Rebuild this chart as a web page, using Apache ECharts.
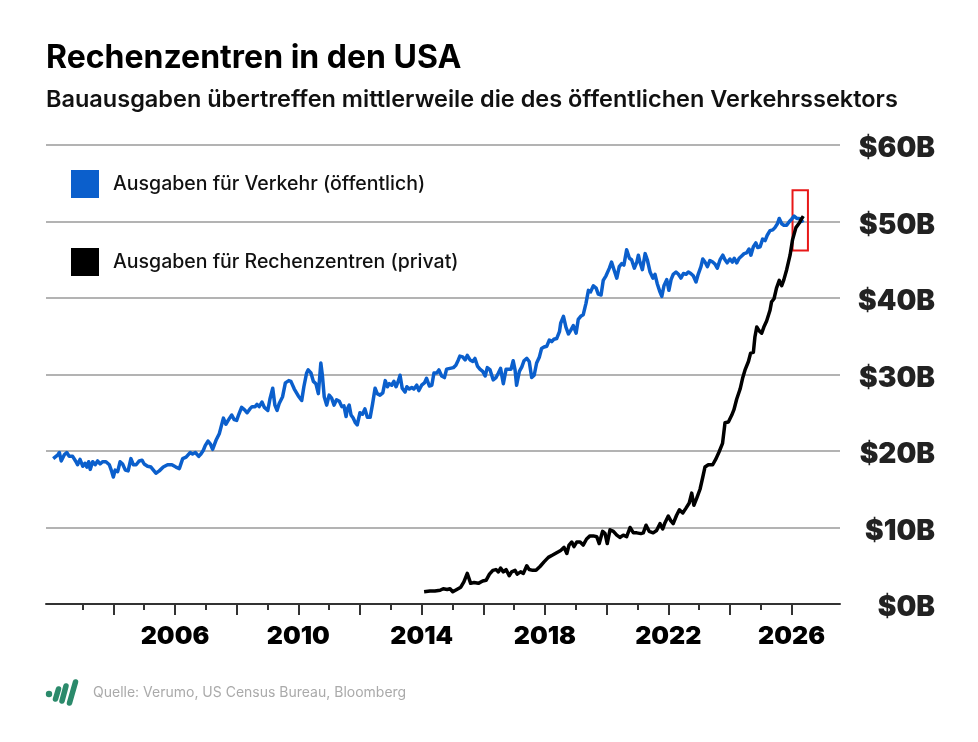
<!DOCTYPE html>
<html>
<head>
<meta charset="utf-8">
<script src="https://cdn.jsdelivr.net/npm/echarts@6/dist/echarts.min.js"></script>
<style>
  html, body { margin: 0; padding: 0; background: #fff; }
  #chart { width: 978px; height: 742px; }
</style>
</head>
<body>
<div id="chart"></div>
<script>
// Bauausgaben Verkehr (öffentlich), Mrd. USD – [Jahr, Wert]
const transportYears = [
  2002.05, 2002.20, 2002.25, 2002.31, 2002.41, 2002.49, 2002.57, 2002.68, 2002.79, 2002.84,
  2002.92, 2003.01, 2003.08, 2003.14, 2003.20, 2003.25, 2003.33, 2003.41, 2003.49, 2003.57,
  2003.65, 2003.76, 2003.87, 2003.95, 2004.00, 2004.06, 2004.14, 2004.22, 2004.30, 2004.39,
  2004.48, 2004.57, 2004.65, 2004.74, 2004.84, 2004.93, 2005.00, 2005.11, 2005.22, 2005.30,
  2005.38, 2005.49, 2005.62, 2005.76, 2005.90, 2006.03, 2006.14, 2006.25, 2006.36, 2006.41,
  2006.49, 2006.57, 2006.66, 2006.77, 2006.84, 2006.92, 2006.98, 2007.07, 2007.15, 2007.22,
  2007.33, 2007.44, 2007.49, 2007.57, 2007.65, 2007.74, 2007.84, 2007.92, 2008.00, 2008.07,
  2008.16, 2008.25, 2008.34, 2008.43, 2008.50, 2008.60, 2008.66, 2008.73, 2008.82, 2008.90,
  2009.01, 2009.08, 2009.17, 2009.24, 2009.31, 2009.38, 2009.49, 2009.58, 2009.69, 2009.76,
  2009.87, 2009.92, 2010.00, 2010.11, 2010.18, 2010.27, 2010.32, 2010.41, 2010.49, 2010.57,
  2010.65, 2010.73, 2010.78, 2010.84, 2010.92, 2011.00, 2011.08, 2011.16, 2011.24, 2011.33,
  2011.41, 2011.48, 2011.55, 2011.59, 2011.65, 2011.71, 2011.78, 2011.85, 2011.91, 2012.00,
  2012.08, 2012.16, 2012.24, 2012.33, 2012.41, 2012.49, 2012.56, 2012.65, 2012.74, 2012.82,
  2012.89, 2012.95, 2013.03, 2013.10, 2013.17, 2013.24, 2013.30, 2013.37, 2013.46, 2013.52,
  2013.60, 2013.68, 2013.75, 2013.84, 2013.91, 2014.00, 2014.09, 2014.16, 2014.25, 2014.33,
  2014.40, 2014.49, 2014.56, 2014.65, 2014.74, 2014.81, 2014.92, 2015.03, 2015.11, 2015.19,
  2015.24, 2015.33, 2015.41, 2015.48, 2015.57, 2015.66, 2015.73, 2015.81, 2015.89, 2015.98,
  2016.06, 2016.13, 2016.22, 2016.32, 2016.41, 2016.49, 2016.56, 2016.65, 2016.74, 2016.81,
  2016.90, 2016.97, 2017.03, 2017.08, 2017.17, 2017.25, 2017.32, 2017.41, 2017.49, 2017.57,
  2017.65, 2017.73, 2017.82, 2017.89, 2017.97, 2018.06, 2018.14, 2018.22, 2018.29, 2018.38,
  2018.47, 2018.51, 2018.60, 2018.68, 2018.76, 2018.84, 2018.92, 2019.01, 2019.08, 2019.16,
  2019.24, 2019.33, 2019.41, 2019.48, 2019.57, 2019.66, 2019.73, 2019.82, 2019.89, 2019.98,
  2020.09, 2020.16, 2020.24, 2020.33, 2020.41, 2020.49, 2020.56, 2020.65, 2020.74, 2020.81,
  2020.90, 2020.98, 2021.03, 2021.08, 2021.16, 2021.25, 2021.32, 2021.41, 2021.50, 2021.57,
  2021.64, 2021.73, 2021.79, 2021.86, 2021.95, 2022.02, 2022.09, 2022.16, 2022.25, 2022.33,
  2022.41, 2022.49, 2022.58, 2022.65, 2022.73, 2022.81, 2022.90, 2022.97, 2023.06, 2023.12,
  2023.19, 2023.27, 2023.35, 2023.44, 2023.52, 2023.59, 2023.68, 2023.77, 2023.84, 2023.91,
  2024.00, 2024.08, 2024.14, 2024.22, 2024.30, 2024.38, 2024.46, 2024.54, 2024.62, 2024.68,
  2024.76, 2024.84, 2024.90, 2024.98, 2025.06, 2025.14, 2025.21, 2025.30, 2025.39, 2025.46,
  2025.54, 2025.60, 2025.68, 2025.75, 2025.84, 2025.93, 2026.00, 2026.08, 2026.17, 2026.25,
  2026.33, 2026.38
];
const transportValues = [
  19.0, 19.5, 19.8, 18.7, 19.5, 19.8, 19.3, 19.3, 18.6, 18.2,
  18.9, 18.0, 18.4, 17.9, 18.6, 17.6, 18.6, 18.2, 18.7, 18.3,
  18.6, 18.6, 18.2, 17.3, 16.6, 17.5, 17.3, 18.6, 18.3, 17.5,
  17.4, 19.0, 18.2, 18.2, 18.7, 18.8, 18.3, 18.0, 17.9, 17.5,
  17.1, 17.4, 17.9, 18.2, 18.2, 17.9, 17.7, 19.0, 19.2, 19.1,
  19.8, 19.6, 19.8, 19.3, 19.6, 20.1, 20.7, 21.3, 20.9, 20.2,
  21.4, 22.3, 22.4, 24.3, 23.5, 24.1, 24.7, 24.1, 24.0, 24.8,
  25.7, 25.4, 25.0, 25.5, 25.8, 25.8, 26.1, 25.8, 26.4, 25.7,
  25.3, 26.8, 28.2, 26.0, 25.3, 26.2, 27.1, 28.9, 29.2, 29.1,
  28.1, 27.9, 27.2, 26.6, 28.4, 30.2, 30.6, 30.2, 29.1, 28.8,
  27.5, 31.5, 29.9, 27.1, 26.0, 27.3, 26.9, 26.0, 26.7, 26.5,
  25.8, 25.9, 24.5, 25.5, 26.0, 24.7, 24.3, 23.7, 23.4, 25.0,
  24.8, 25.5, 24.4, 24.4, 26.2, 28.2, 27.5, 27.3, 27.6, 29.2,
  28.4, 28.8, 28.6, 29.1, 28.4, 29.1, 29.9, 28.2, 27.7, 28.4,
  28.1, 28.3, 28.1, 28.6, 27.9, 28.6, 28.9, 29.5, 28.5, 28.6,
  30.2, 30.2, 30.6, 29.8, 29.6, 30.7, 30.8, 30.9, 31.2, 31.9,
  32.4, 32.3, 31.9, 32.5, 31.9, 31.7, 32.1, 31.1, 30.7, 30.4,
  29.8, 30.9, 30.6, 29.3, 29.6, 30.2, 30.8, 28.8, 30.7, 30.7,
  30.7, 31.8, 30.6, 28.6, 30.4, 31.0, 31.8, 32.1, 31.7, 29.6,
  29.9, 31.5, 32.3, 33.4, 33.6, 33.7, 34.5, 34.3, 34.6, 34.7,
  35.6, 36.7, 37.6, 36.2, 35.3, 35.8, 36.4, 35.4, 37.2, 37.6,
  37.8, 39.3, 41.0, 40.8, 41.6, 41.3, 40.5, 40.4, 42.3, 42.9,
  43.9, 44.7, 43.7, 42.6, 44.1, 44.5, 44.3, 46.3, 45.2, 45.0,
  43.9, 44.7, 45.6, 44.7, 43.7, 45.8, 45.0, 43.4, 42.6, 43.1,
  41.9, 40.8, 40.2, 41.6, 42.4, 41.0, 42.4, 43.1, 43.4, 43.1,
  42.6, 43.2, 43.1, 43.4, 43.2, 42.9, 42.1, 43.1, 44.1, 45.1,
  44.7, 44.1, 44.9, 44.7, 44.4, 43.9, 45.0, 45.6, 45.0, 44.6,
  45.1, 44.7, 45.2, 44.6, 45.2, 45.5, 45.8, 45.9, 46.4, 45.6,
  46.7, 47.2, 46.6, 46.7, 47.7, 47.5, 48.2, 48.8, 48.9, 49.2,
  49.7, 50.4, 49.7, 49.5, 49.5, 50.0, 50.3, 50.7, 50.4, 50.4,
  50.0, 50.2
];

// Bauausgaben Rechenzentren (privat), Mrd. USD
const dataCenterYears = [
  2014.08, 2014.27, 2014.43, 2014.60, 2014.70, 2014.83, 2014.92, 2015.01, 2015.14, 2015.27,
  2015.37, 2015.48, 2015.59, 2015.70, 2015.84, 2015.98, 2016.09, 2016.20, 2016.31, 2016.41,
  2016.49, 2016.56, 2016.65, 2016.74, 2016.84, 2016.92, 2017.03, 2017.10, 2017.21, 2017.30,
  2017.41, 2017.49, 2017.60, 2017.71, 2017.84, 2017.97, 2018.11, 2018.25, 2018.38, 2018.51,
  2018.62, 2018.71, 2018.78, 2018.87, 2018.94, 2019.03, 2019.14, 2019.24, 2019.35, 2019.46,
  2019.57, 2019.68, 2019.76, 2019.87, 2019.95, 2020.02, 2020.11, 2020.22, 2020.33, 2020.43,
  2020.54, 2020.65, 2020.76, 2020.87, 2020.98, 2021.11, 2021.19, 2021.28, 2021.38, 2021.51,
  2021.62, 2021.73, 2021.82, 2021.89, 2022.00, 2022.08, 2022.16, 2022.27, 2022.36, 2022.47,
  2022.57, 2022.68, 2022.76, 2022.83, 2022.92, 2023.03, 2023.12, 2023.19, 2023.30, 2023.44,
  2023.55, 2023.65, 2023.76, 2023.84, 2023.95, 2024.06, 2024.13, 2024.22, 2024.33, 2024.41,
  2024.49, 2024.60, 2024.67, 2024.76, 2024.81, 2024.87, 2024.95, 2025.03, 2025.10, 2025.19,
  2025.24, 2025.30, 2025.35, 2025.43, 2025.51, 2025.60, 2025.68, 2025.75, 2025.84, 2025.95,
  2026.03, 2026.14, 2026.25, 2026.33, 2026.38
];
const dataCenterValues = [
  1.6, 1.7, 1.7, 1.8, 2.0, 1.9, 2.0, 1.6, 1.9, 2.2,
  2.9, 4.0, 2.7, 2.8, 2.7, 3.0, 3.1, 3.9, 4.4, 4.5,
  4.2, 4.7, 4.2, 4.5, 3.7, 4.2, 4.4, 3.9, 4.2, 4.0,
  5.0, 4.5, 4.4, 4.4, 4.9, 5.5, 6.1, 6.4, 6.7, 7.0,
  7.4, 6.6, 7.7, 8.1, 7.5, 8.1, 8.1, 7.7, 8.5, 8.9,
  8.9, 8.8, 7.9, 9.5, 9.2, 7.9, 9.7, 9.5, 9.0, 8.7,
  9.0, 8.8, 10.0, 9.3, 9.3, 9.2, 9.3, 10.3, 9.5, 9.3,
  9.6, 10.5, 9.8, 10.6, 11.5, 10.9, 10.5, 11.6, 12.3, 11.9,
  12.5, 13.2, 14.5, 12.9, 13.8, 15.0, 16.6, 17.9, 18.2, 18.2,
  19.0, 19.9, 21.0, 23.7, 23.8, 24.7, 25.4, 26.8, 28.1, 29.5,
  30.6, 31.7, 32.8, 32.9, 34.9, 36.2, 35.7, 35.4, 36.2, 37.0,
  36.9, 38.4, 39.5, 39.9, 41.3, 42.3, 41.6, 42.4, 43.7, 45.6,
  47.6, 49.2, 49.8, 50.4, 50.7
];

const labelYears = [2006, 2010, 2014, 2018, 2022, 2026];
const evenYears = [2004, 2006, 2008, 2010, 2012, 2014, 2016, 2018, 2020, 2022, 2024, 2026];
const oddYears = [2003, 2005, 2007, 2009, 2011, 2013, 2015, 2017, 2019, 2021, 2023, 2025];
const highlightBox = [[2026.03, 54.1], [2026.53, 46.2]];

const FONT = 'Inter, "Noto Sans", sans-serif';
const BLUE = '#0b5fcc';

const zip = (xs, ys) => xs.map((x, i) => [x, ys[i]]);

const chart = echarts.init(document.getElementById('chart'), null, { renderer: 'canvas' });

chart.setOption({
  backgroundColor: '#fff',
  animation: false,
  textStyle: { fontFamily: FONT },
  title: [
    {
      text: 'Rechenzentren in den USA',
      left: 41, top: 37,
      textStyle: { fontSize: 32, fontWeight: 700, color: '#000', fontFamily: FONT }
    },
    {
      text: 'Bauausgaben übertreffen mittlerweile die des öffentlichen Verkehrssektors',
      left: 41, top: 83,
      textStyle: { fontSize: 23.5, fontWeight: 600, color: '#111', fontFamily: FONT }
    },
    {
      text: 'Quelle: Verumo, US Census Bureau, Bloomberg',
      left: 88, top: 681,
      textStyle: { fontSize: 14, fontWeight: 400, color: '#aaa', fontFamily: FONT }
    }
  ],
  legend: {
    orient: 'vertical',
    left: 66, top: 165,
    icon: 'rect',
    itemWidth: 28, itemHeight: 28,
    itemGap: 50,
    selectedMode: false,
    textStyle: { fontSize: 19.5, fontWeight: 500, color: '#111', fontFamily: FONT, padding: [0, 0, 0, 9] },
    data: ['Ausgaben für Verkehr (öffentlich)', 'Ausgaben für Rechenzentren (privat)']
  },
  grid: { left: 46, right: 138, top: 145, bottom: 138 },
  xAxis: [
    {
      type: 'value',
      min: 2001.816, max: 2027.57,
      axisLine: { show: true, lineStyle: { color: '#333', width: 2 } },
      axisTick: { show: true, customValues: evenYears, length: 11, lineStyle: { color: '#333', width: 2 } },
      axisLabel: {
        customValues: labelYears,
        margin: 20,
        color: '#000',
        fontSize: 25,
        fontWeight: 900,
        fontFamily: FONT,
        formatter: (v) => String(v)
      },
      splitLine: { show: false }
    },
    {
      type: 'value',
      position: 'bottom',
      min: 2001.816, max: 2027.57,
      axisLine: { show: false },
      axisTick: { show: true, customValues: oddYears, length: 6, lineStyle: { color: '#333', width: 2 } },
      axisLabel: { show: false },
      splitLine: { show: false }
    }
  ],
  yAxis: {
    type: 'value',
    position: 'right',
    min: 0, max: 60, interval: 10,
    axisLine: { show: false },
    axisTick: { show: false },
    axisLabel: {
      align: 'right',
      margin: 95,
      formatter: (v) => '{v|$' + v + 'B}',
      rich: {
        v: {
          color: '#222',
          fontSize: 28,
          fontWeight: 900,
          fontFamily: FONT,
          padding: [8, 0, 0, 0]
        }
      }
    },
    splitLine: { lineStyle: { color: '#9a9a9a', width: 1.5 } }
  },
  series: [
    {
      name: 'Ausgaben für Verkehr (öffentlich)',
      type: 'line',
      data: zip(transportYears, transportValues),
      showSymbol: false,
      color: BLUE,
      lineStyle: { color: BLUE, width: 3.5, join: 'round' },
      z: 3
    },
    {
      name: 'Ausgaben für Rechenzentren (privat)',
      type: 'line',
      data: zip(dataCenterYears, dataCenterValues),
      showSymbol: false,
      color: '#000',
      lineStyle: { color: '#000', width: 3.5, join: 'round' },
      z: 4,
      markArea: {
        silent: true,
        itemStyle: { color: 'rgba(0,0,0,0)', borderColor: '#e81818', borderWidth: 2 },
        data: [[{ coord: highlightBox[0] }, { coord: highlightBox[1] }]]
      }
    }
  ],
  graphic: [
    // Verumo-Logo
    { type: 'circle', shape: { cx: 49, cy: 694, r: 3.2 }, style: { fill: '#2b8a6b' } },
    { type: 'line', shape: { x1: 55.5, y1: 699, x2: 58.5, y2: 689 }, style: { stroke: '#2b8a6b', lineWidth: 5.5, lineCap: 'round' } },
    { type: 'line', shape: { x1: 62, y1: 701, x2: 66, y2: 686 }, style: { stroke: '#2b8a6b', lineWidth: 5.5, lineCap: 'round' } },
    { type: 'line', shape: { x1: 69.5, y1: 703, x2: 75.5, y2: 682 }, style: { stroke: '#2b8a6b', lineWidth: 5.5, lineCap: 'round' } }
  ]
});
</script>
</body>
</html>
